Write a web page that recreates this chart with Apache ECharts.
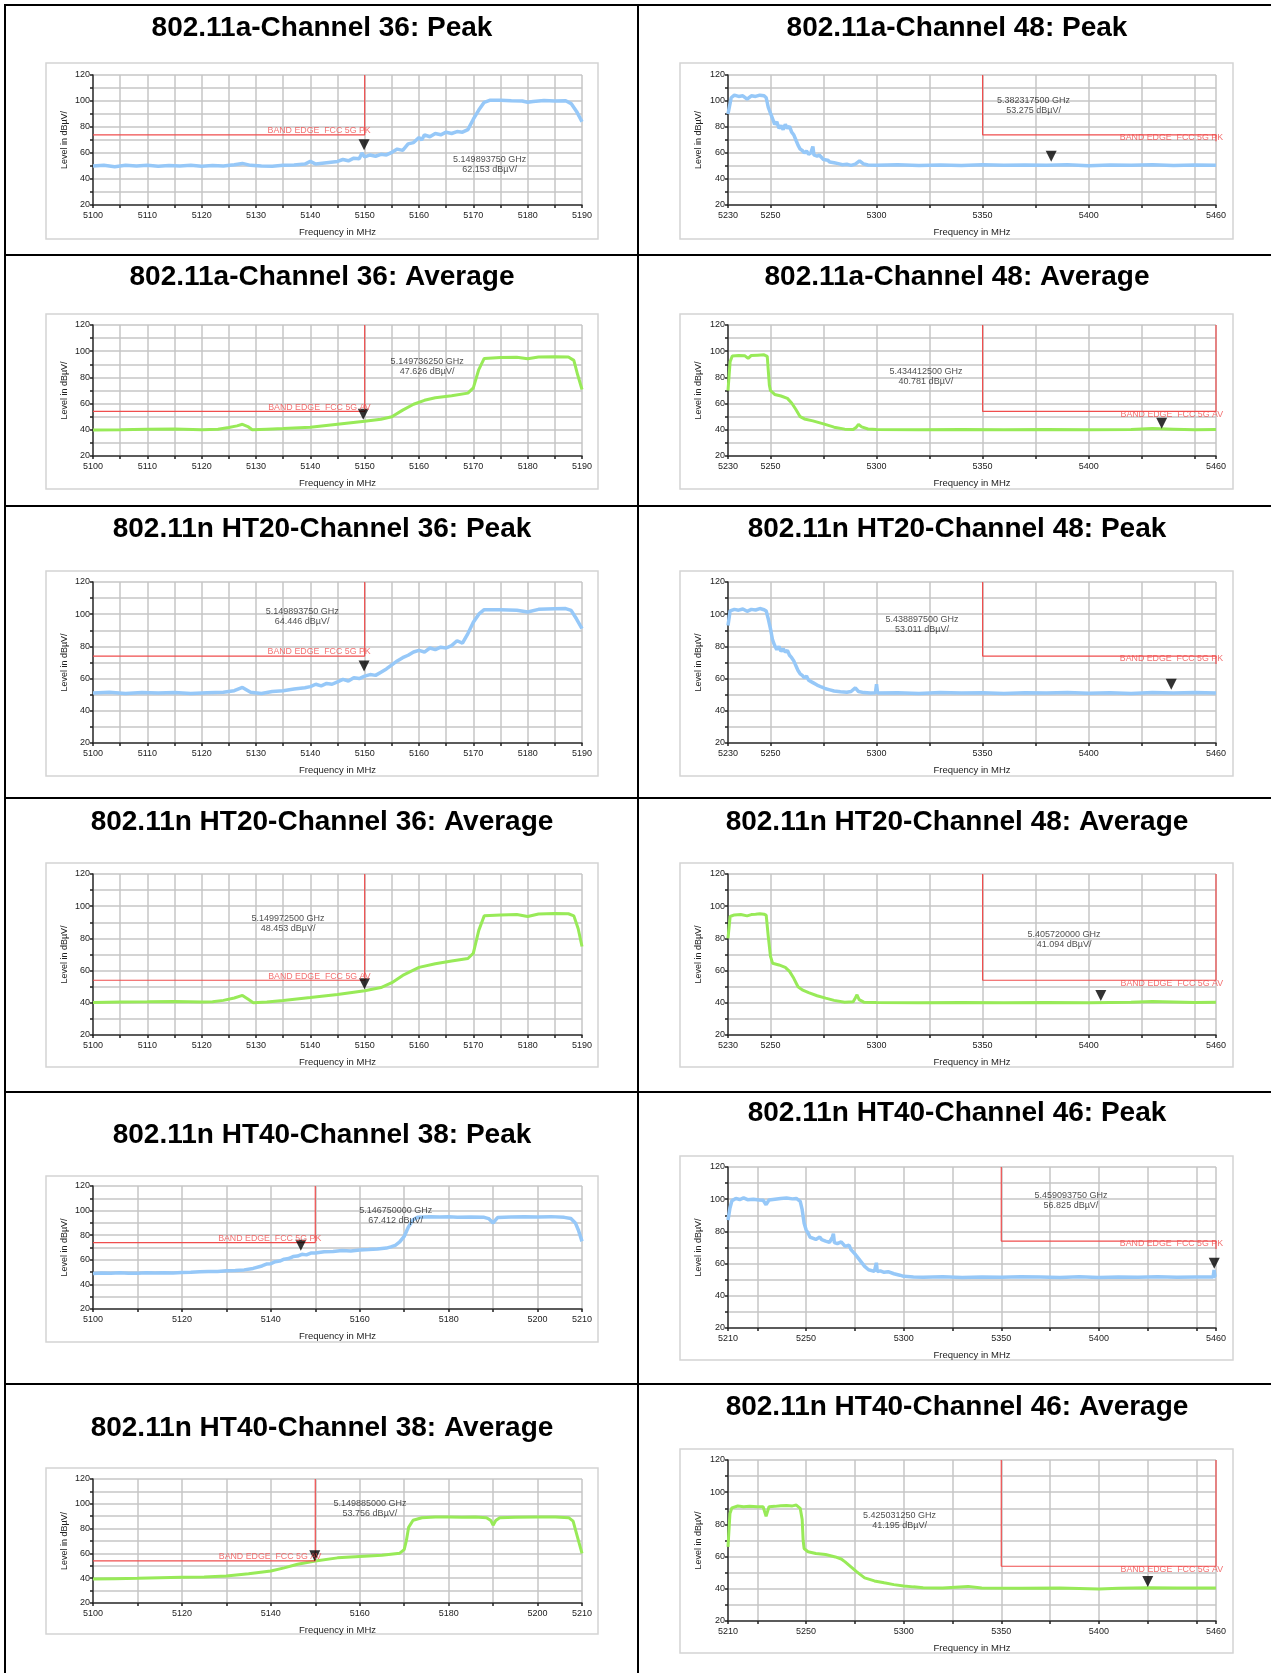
<!DOCTYPE html>
<html>
<head>
<meta charset="utf-8">
<script src="https://cdn.jsdelivr.net/npm/echarts@6/dist/echarts.min.js"></script>
<style>
html,body{margin:0;padding:0;background:#fff;}
#page{width:1271px;height:1673px;}
</style>
</head>
<body>
<div id="page"></div>
<script>
// titles of the 12 plots, in reading order
var titles = [
	"802.11a-Channel 36: Peak", "802.11a-Channel 48: Peak",
	"802.11a-Channel 36: Average", "802.11a-Channel 48: Average",
	"802.11n HT20-Channel 36: Peak", "802.11n HT20-Channel 48: Peak",
	"802.11n HT20-Channel 36: Average", "802.11n HT20-Channel 48: Average",
	"802.11n HT40-Channel 38: Peak", "802.11n HT40-Channel 46: Peak",
	"802.11n HT40-Channel 38: Average", "802.11n HT40-Channel 46: Average"
];

// x axis ticks / labels (MHz)
var ticksLow = [5100,5105,5110,5115,5120,5125,5130,5135,5140,5145,5150,5155,5160,5165,5170,5175,5180,5185,5190];
var labelsLow = [5100,5110,5120,5130,5140,5150,5160,5170,5180,5190];
var ticksLowWide = [5100,5110,5120,5130,5140,5150,5160,5170,5180,5190,5200,5210];
var labelsLowWide = [5100,5120,5140,5160,5180,5200,5210];
var ticksHigh = [5230,5250,5275,5300,5325,5350,5375,5400,5425,5450,5460];
var labelsHigh = [5230,5250,5300,5350,5400,5460];
var ticksHighWide = [5210,5225,5250,5275,5300,5325,5350,5375,5400,5425,5450,5460];
var labelsHighWide = [5210,5250,5300,5350,5400,5460];

// limit lines (MHz, dBuV)
var limitPkLeft = [[5100,74],[5150,74],[5150,120]];
var limitAvLeft = [[5100,54],[5150,54],[5150,120]];
var limitPkRight = [[5350,120],[5350,74],[5460,74],[5460,69]];
var limitAvRight = [[5350,120],[5350,54],[5460,54],[5460,120]];

// marker readouts
var markerFreq = [5149.89375, 5382.3175, 5149.73625, 5434.4125, 5149.89375, 5438.8975, 5149.9725, 5405.72, 5146.75, 5459.09375, 5149.885, 5425.03125];
var markerLevel = [62.153, 53.275, 47.626, 40.781, 64.446, 53.011, 48.453, 41.094, 67.412, 56.825, 53.756, 41.195];

// traces
var trace11aCh36Pk = [[5100,50],[5102,50.5],[5104,49.5],[5106,50.5],[5108,50],[5110,50.5],[5112,49.8],[5114,50.4],[5116,50],[5118,50.5],[5120,49.8],[5122,50.3],[5124,50],[5126,51],[5127.5,52],[5129,50.5],[5131,50],[5133,49.8],[5135,50.5],[5137,50.8],[5139,51.5],[5140,53.5],[5141,51.5],[5143,52.5],[5145,53.5],[5146,55],[5147,54],[5148,56],[5149,55.5],[5149.5,60],[5150,57],[5151,58.5],[5152,57.5],[5153,59],[5154,58.5],[5155,60.5],[5156,63],[5157,62],[5158,67],[5159,68],[5160,72],[5160.5,70],[5161,74],[5162,72.5],[5163,75],[5164,74],[5165,76],[5166,75],[5167,76.5],[5168,76],[5169,78],[5170,86],[5171,93],[5172,99],[5173,100.5],[5175,100.5],[5177,100.2],[5179,100],[5180,99],[5181,99.6],[5183,100.3],[5185,100],[5187,100.2],[5188,98],[5189,92],[5190,84]];
var trace11aCh48Pk = [[5230,90],[5231.5,102.5],[5233,104.5],[5235,103.5],[5237,104],[5239,101.5],[5241,104],[5243,103.5],[5245,104.5],[5247,104],[5248,102.5],[5249,95],[5250.5,88.5],[5252,82],[5253,84],[5254,79],[5255,81],[5256,78],[5257,82],[5258,79],[5259,80.5],[5260,76],[5261,74],[5262,70],[5263,66],[5264,63],[5265,62],[5266,60],[5267,61.5],[5268,59],[5269,60],[5270,65],[5270.5,58.5],[5272,57.5],[5273,58.5],[5275,55],[5277,54.5],[5278,53],[5280,52.5],[5282,51.8],[5284,51],[5286,51.3],[5288,50.5],[5290,51.5],[5292,54],[5294,51.5],[5296,50.8],[5300,50.5],[5310,51],[5320,50.3],[5330,50.8],[5340,50.4],[5350,51],[5360,50.5],[5370,50.8],[5380,50.5],[5390,51],[5400,50.2],[5410,50.8],[5420,50.5],[5430,50.9],[5440,50.4],[5450,50.8],[5460,50.6]];
var trace11aCh36Av = [[5100,39.8],[5105,40],[5110,40.5],[5115,40.6],[5120,40],[5123,40.5],[5125,41.8],[5126.5,43],[5127.5,44.2],[5128.5,42.5],[5129.3,40],[5132,40.5],[5135,41],[5140,42],[5145,44.3],[5150,46.5],[5153,48],[5155,50],[5157,55],[5159,59.5],[5161,62.5],[5163,64.5],[5166,66],[5169,68],[5170,72],[5171,86],[5172,94.5],[5175,95.2],[5178,95.3],[5180,94.2],[5182,95.5],[5185,95.7],[5187.5,95.6],[5188.5,93],[5189.2,82],[5190,70.8]];
var trace11aCh48Av = [[5230,70],[5231,92],[5232,96.4],[5235,96.8],[5238,96.5],[5239.5,94.5],[5241,96.8],[5244,97],[5247,97.2],[5248.5,96],[5249.5,74],[5250,70],[5252,67],[5255,65.8],[5258,64],[5260,60.5],[5262,55.5],[5264,50],[5266,48.3],[5270,46.8],[5275,44.5],[5280,42],[5285,40.5],[5289,40.2],[5290.5,42],[5291.5,44.2],[5293,42.2],[5296,40.6],[5300,40.2],[5320,40],[5340,40.2],[5360,40],[5380,40.3],[5400,40.1],[5420,40.3],[5430,40.9],[5440,40.5],[5450,40],[5460,40.3]];
var traceHt20Ch36Pk = [[5100,51],[5103,51.5],[5106,50.8],[5109,51.3],[5112,51],[5115,51.4],[5118,50.8],[5121,51.2],[5124,51.5],[5126,52.5],[5127.5,54.5],[5129,51.5],[5131,50.8],[5133,52],[5135,52.5],[5137,53.5],[5139,54.3],[5140,55],[5141,56.5],[5142,55.5],[5143,57],[5144,56.5],[5145,58],[5146,59.5],[5147,58.5],[5148,60.5],[5149,60],[5150,61.5],[5151,62.5],[5152,62],[5153,64],[5154,66],[5155,68.5],[5156,71],[5157,73],[5158,74.5],[5159,76.5],[5160,77.5],[5161,76.5],[5162,79],[5163,78],[5164,79.5],[5165,79],[5166,80.5],[5167,83.5],[5168,82],[5169,88],[5170,95],[5171,100],[5172,102.8],[5175,102.8],[5178,102.5],[5180,101.4],[5182,103],[5185,103.4],[5187,103.5],[5188,102.4],[5189,97],[5190,91]];
var traceHt20Ch48Pk = [[5230,93],[5231,102],[5233,103],[5235,102.5],[5237,103.2],[5239,101.8],[5241,103],[5243,102.6],[5245,103.5],[5247,102.8],[5248,102],[5249,97],[5250,91],[5251,84],[5252,80.5],[5253,78],[5254,80],[5255,77],[5256,78.5],[5257,76.5],[5258,77.5],[5259,74.5],[5260,73],[5261,71],[5262,68],[5263,65],[5264,63],[5265,62],[5266,60.5],[5267,61.5],[5268,59],[5270,57.5],[5272,56],[5274,54.8],[5276,53.7],[5278,53],[5280,52.3],[5283,51.8],[5286,51.5],[5288,52],[5290,54.2],[5291.5,52],[5294,51.3],[5297,51],[5299.5,51.2],[5300,56.5],[5300.5,51],[5310,51.2],[5320,50.8],[5330,51.3],[5340,51],[5350,51.2],[5360,50.7],[5370,51.2],[5380,51],[5390,51.3],[5400,50.9],[5410,51.2],[5420,50.8],[5430,51.3],[5440,51],[5450,51.4],[5460,51]];
var traceHt20Ch36Av = [[5100,40.2],[5105,40.5],[5110,40.6],[5115,40.8],[5120,40.5],[5122,40.6],[5124,41.5],[5126,43],[5127.5,44.6],[5128.5,42.3],[5129.5,40],[5132,40.5],[5135,41.5],[5140,43.3],[5145,45.2],[5150,47.5],[5153,49.5],[5155,52.5],[5157,57],[5160,62],[5163,64.2],[5166,65.9],[5169,67.5],[5170,70.8],[5171,85],[5172,94],[5175,94.6],[5178,94.8],[5180,93.6],[5182,95.2],[5185,95.4],[5187.5,95.3],[5188.5,94],[5189.3,86],[5190,75]];
var traceHt20Ch48Av = [[5230,80],[5231,93.6],[5233,94.6],[5236,94.8],[5239,94],[5241,94.8],[5243,95],[5245,95.3],[5247,95],[5248,94.5],[5249,81],[5250,69],[5251,64.6],[5254,63.5],[5257,62],[5259,59.5],[5261,55.2],[5263,50],[5265,48],[5268,46.3],[5272,44.4],[5276,42.9],[5280,41.5],[5285,40.3],[5289,40.6],[5290,43],[5290.8,45],[5291.8,42],[5294,40.4],[5300,40.2],[5320,40],[5340,40.2],[5360,40],[5380,40.2],[5400,40.1],[5420,40.3],[5430,40.8],[5440,40.5],[5450,40.2],[5460,40.4]];
var traceHt40Ch38Pk = [[5100,48.8],[5102,49.3],[5104,49],[5106,49.5],[5108,49.1],[5110,49],[5112,49.4],[5114,49.2],[5116,49.5],[5118,49.3],[5120,49.6],[5122,49.8],[5124,50.2],[5126,50.4],[5128,50.5],[5130,51],[5132,51.3],[5134,51.8],[5136,53],[5138,55],[5139,56.5],[5140,56.8],[5141,58.5],[5142,59],[5143,60.5],[5144,61],[5145,62.6],[5146,63],[5147,64.5],[5148,64],[5149,65.5],[5150,65.5],[5152,66.5],[5154,66.8],[5156,67.5],[5158,67.2],[5160,68],[5162,68.3],[5164,68.8],[5166,69.5],[5167,70.5],[5168,71.8],[5169,74.5],[5170,79],[5171,87],[5172,92.5],[5173,94.5],[5176,95],[5178,94.8],[5180,94.9],[5182,94.6],[5185,94.8],[5188,94.5],[5189,93.5],[5190,90],[5191,94.3],[5194,94.8],[5197,95],[5200,94.8],[5203,95.1],[5206,94.5],[5207.5,93.5],[5208.5,90],[5209.2,84],[5210,75]];
var traceHt40Ch46Pk = [[5210,87],[5211,94.5],[5212,99],[5214,100.5],[5216,99.8],[5218,100.8],[5220,99.7],[5223,100],[5226,99.5],[5228,99.3],[5229.5,96.6],[5231,99.5],[5234,100],[5237,100.5],[5240,100.7],[5243,100.2],[5245,100.5],[5247,98.7],[5248,93.5],[5249,85],[5250,81],[5251,79],[5252,76.5],[5253,76],[5255,75],[5257,76.5],[5258,74.9],[5260,74],[5262,73.2],[5263.5,76.5],[5264,78.5],[5264.5,73],[5266,72.4],[5268,73.5],[5270,70.7],[5272,71.5],[5273,68.7],[5275,66],[5276,64.5],[5278,61.4],[5280,58.3],[5282,56.2],[5285,55.2],[5286,60.5],[5286.5,55],[5288,55.5],[5290,54.6],[5292,55],[5295,53.7],[5298,52.8],[5300,52.1],[5305,51.7],[5310,51.5],[5320,51.8],[5330,51.4],[5340,51.7],[5350,51.5],[5360,51.8],[5370,51.6],[5380,51.4],[5390,51.8],[5400,51.3],[5410,51.7],[5420,51.5],[5430,51.8],[5440,51.5],[5450,51.7],[5458.5,51.6],[5459,56],[5459.5,51.8],[5460,51.5]];
var traceHt40Ch38Av = [[5100,39.3],[5105,39.6],[5110,39.9],[5115,40.4],[5120,40.8],[5125,41],[5130,41.8],[5135,43.5],[5140,45.8],[5143,48.3],[5146,51.2],[5150,53.8],[5155,56.4],[5160,57.5],[5165,58.6],[5169,60.2],[5170,63],[5170.5,70.5],[5171,81],[5172,86.7],[5174,88.8],[5177,89.3],[5180,89.4],[5183,89.2],[5186,89.4],[5188.5,88.8],[5189.5,86.5],[5190,82.8],[5190.6,86.5],[5191.5,88.8],[5195,89.2],[5200,89.4],[5204,89.3],[5207,88.8],[5208,86],[5209,73],[5210,60]];
var traceHt40Ch46Av = [[5210,66],[5211,86.8],[5212,90.3],[5215,91.4],[5218,91],[5221,91.3],[5225,90.9],[5228,91],[5229.5,85],[5231,91],[5234,91.2],[5237,91.6],[5240,91.8],[5243,91.5],[5245,92],[5247,90],[5248,83],[5248.5,70],[5249,65],[5251,63],[5255,61.9],[5260,61.3],[5265,59.8],[5268,58.5],[5270,56.7],[5273,53.6],[5276,50.5],[5280,46.8],[5285,44.9],[5290,43.7],[5295,42.6],[5300,41.8],[5305,41.2],[5310,40.7],[5320,40.5],[5333,41.5],[5340,40.5],[5360,40.4],[5380,40.5],[5400,39.9],[5410,40.4],[5425,40.7],[5440,40.5],[5460,40.5]];

var font = '"Liberation Sans", Arial, sans-serif';
var peakBlue = '#96c8f8';
var avgGreen = '#98ea58';
var limitRed = '#f04e4e';

// layout of each cell (px): title centre y, chart box top/bottom, plot top/bottom, text anchor (data units)
var panels = [
	{trace: trace11aCh36Pk, limit: limitPkLeft, ticks: ticksLow, labels: labelsLow, range: [5100,5190], col: 0, titleY: 28, box: [63,239], plot: [75,205], pk: true, textAt: [5173,51.5]},
	{trace: trace11aCh48Pk, limit: limitPkRight, ticks: ticksHigh, labels: labelsHigh, range: [5230,5460], col: 1, titleY: 28, box: [63,239], plot: [75,205], pk: true, textAt: [5374,96.3]},
	{trace: trace11aCh36Av, limit: limitAvLeft, ticks: ticksLow, labels: labelsLow, range: [5100,5190], col: 0, titleY: 277, box: [314,489], plot: [325,456], pk: false, textAt: [5161.5,88.3]},
	{trace: trace11aCh48Av, limit: limitAvRight, ticks: ticksHigh, labels: labelsHigh, range: [5230,5460], col: 1, titleY: 277, box: [314,489], plot: [325,456], pk: false, textAt: [5323.3,80.3]},
	{trace: traceHt20Ch36Pk, limit: limitPkLeft, ticks: ticksLow, labels: labelsLow, range: [5100,5190], col: 0, titleY: 529, box: [571,776], plot: [582,743], pk: true, textAt: [5138.5,98.4]},
	{trace: traceHt20Ch48Pk, limit: limitPkRight, ticks: ticksHigh, labels: labelsHigh, range: [5230,5460], col: 1, titleY: 529, box: [571,776], plot: [582,743], pk: true, textAt: [5321.4,93.6]},
	{trace: traceHt20Ch36Av, limit: limitAvLeft, ticks: ticksLow, labels: labelsLow, range: [5100,5190], col: 0, titleY: 822, box: [863,1067], plot: [874,1035], pk: false, textAt: [5135.9,89.3]},
	{trace: traceHt20Ch48Av, limit: limitAvRight, ticks: ticksHigh, labels: labelsHigh, range: [5230,5460], col: 1, titleY: 822, box: [863,1067], plot: [874,1035], pk: false, textAt: [5388.4,79.6]},
	{trace: traceHt40Ch38Pk, limit: limitPkLeft, ticks: ticksLowWide, labels: labelsLowWide, range: [5100,5210], col: 0, titleY: 1135, box: [1176,1342], plot: [1186,1309], pk: true, textAt: [5168.1,96.4]},
	{trace: traceHt40Ch46Pk, limit: limitPkRight, ticks: ticksHighWide, labels: labelsHighWide, range: [5210,5460], col: 1, titleY: 1113, box: [1156,1360], plot: [1167,1328], pk: true, textAt: [5385.7,99.3]},
	{trace: traceHt40Ch38Av, limit: limitAvLeft, ticks: ticksLowWide, labels: labelsLowWide, range: [5100,5210], col: 0, titleY: 1428, box: [1468,1634], plot: [1479,1603], pk: false, textAt: [5162.3,96.6]},
	{trace: traceHt40Ch46Av, limit: limitAvRight, ticks: ticksHighWide, labels: labelsHighWide, range: [5210,5460], col: 1, titleY: 1407, box: [1449,1653], plot: [1460,1621], pk: false, textAt: [5297.9,82.6]}
];

var chart = echarts.init(document.getElementById('page'), null, {renderer: 'canvas'});

var grids = [], xAxes = [], yAxes = [], series = [];
var graphics = [];

// table rules
[5, 255, 506, 798, 1092, 1384].forEach(function (y) {
	graphics.push({type: 'line', shape: {x1: 4, y1: y, x2: 1271, y2: y}, style: {stroke: '#000', lineWidth: 2}});
});
[5, 638].forEach(function (x) {
	graphics.push({type: 'line', shape: {x1: x, y1: 4, x2: x, y2: 1673}, style: {stroke: '#000', lineWidth: 2}});
});

panels.forEach(function (p, i) {
	var plotLeft = p.col === 0 ? 93 : 728;
	var plotW = p.col === 0 ? 489 : 488;
	var boxLeft = p.col === 0 ? 46 : 680;
	var boxW = p.col === 0 ? 552 : 553;
	var centerX = p.col === 0 ? 322 : 957;

	graphics.push({
		type: 'text', x: centerX, y: p.titleY,
		style: {text: titles[i], font: 'bold 28px ' + font, fill: '#000', align: 'center', verticalAlign: 'middle'}
	});
	graphics.push({
		type: 'rect', shape: {x: boxLeft, y: p.box[0], width: boxW, height: p.box[1] - p.box[0]},
		style: {fill: 'none', stroke: '#d4d4d4', lineWidth: 1.5}
	});

	grids.push({left: plotLeft, top: p.plot[0], width: plotW, height: p.plot[1] - p.plot[0], outerBoundsMode: 'none'});

	xAxes.push({
		gridIndex: i, type: 'value', min: p.range[0], max: p.range[1],
		name: 'Frequency in MHz', nameLocation: 'middle', nameGap: 22,
		nameTextStyle: {fontSize: 9.5, color: '#222', fontFamily: font},
		axisLine: {show: true, onZero: false, lineStyle: {color: '#333', width: 1.5}},
		axisTick: {show: true, length: 3, customValues: p.ticks, lineStyle: {color: '#222', width: 1.5}},
		axisLabel: {customValues: p.labels, margin: 6, fontSize: 9, color: '#222', fontFamily: font,
			formatter: function (v) { return String(v); }},
		splitLine: {show: true, lineStyle: {color: '#c6c6c6', width: 1.5}}
	});
	yAxes.push({
		gridIndex: i, type: 'value', min: 20, max: 120, interval: 10,
		name: 'Level in dBµV/', nameLocation: 'middle', nameGap: p.col === 0 ? 24 : 25, nameRotate: 90,
		nameTextStyle: {fontSize: 9, color: '#222', fontFamily: font},
		axisLine: {show: true, onZero: false, lineStyle: {color: '#333', width: 1.5}},
		axisTick: {show: true, length: 3, lineStyle: {color: '#222', width: 1.5}},
		axisLabel: {margin: 3, fontSize: 9, color: '#222', fontFamily: font,
			formatter: function (v) { return v % 20 === 0 ? String(v) : ''; }},
		splitLine: {show: true, lineStyle: {color: '#c6c6c6', width: 1.5}}
	});

	// measured trace
	series.push({
		type: 'line', xAxisIndex: i, yAxisIndex: i, data: p.trace,
		symbol: 'none', z: 3,
		lineStyle: {color: p.pk ? peakBlue : avgGreen, width: p.pk ? 3.5 : 3}
	});
	// limit line
	series.push({
		type: 'line', xAxisIndex: i, yAxisIndex: i, data: p.limit,
		symbol: 'none', z: 4,
		lineStyle: {color: limitRed, width: 1.2}
	});
	// marker ▼ with its tip on the marker level
	series.push({
		type: 'scatter', xAxisIndex: i, yAxisIndex: i,
		data: [[markerFreq[i], markerLevel[i]]],
		symbol: 'path://M0,0L10,0L5,10Z', symbolSize: [11, 11], symbolOffset: [0, '-50%'],
		itemStyle: {color: '#000'}, z: 6
	});

	var mText = (markerFreq[i] / 1000).toFixed(9) + ' GHz\n' + markerLevel[i].toFixed(3) + ' dBµV/';
	var limName = 'BAND EDGE  FCC 5G ' + (p.pk ? 'PK' : 'AV');
	var limAnchor = p.col === 0 ? p.limit[1] : p.limit[2];
	series.push({
		type: 'scatter', xAxisIndex: i, yAxisIndex: i, symbolSize: 1, z: 7, clip: false,
		itemStyle: {color: 'rgba(0,0,0,0)'},
		data: [
			{value: p.textAt, label: {show: true, formatter: mText, position: 'inside', align: 'center',
				verticalAlign: 'middle', fontSize: 9, lineHeight: 10, color: '#222', fontFamily: font}},
			{value: limAnchor, label: {show: true, formatter: limName,
				position: p.col === 0 ? [6.5, 1] : [7.5, -1], align: 'right',
				verticalAlign: p.col === 0 ? 'bottom' : 'top', fontSize: 8.8, color: limitRed, fontFamily: font}}
		]
	});
});

chart.setOption({
	animation: false,
	backgroundColor: '#fff',
	textStyle: {fontFamily: font},
	grid: grids,
	xAxis: xAxes,
	yAxis: yAxes,
	series: series,
	graphic: graphics
});
</script>
</body>
</html>
